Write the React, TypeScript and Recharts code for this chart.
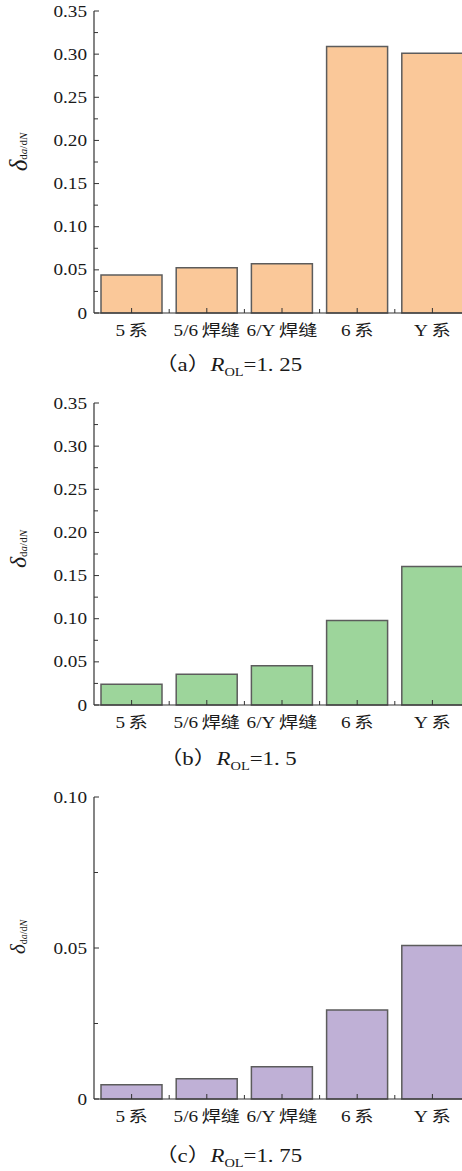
import React from 'react';
import { BarChart, Bar, XAxis, YAxis } from 'recharts';

// Categories along the x axis
const categories = ['5系', '5/6焊缝', '6/Y焊缝', '6系', 'Y系'];

// δ(da/dN) values for each overload ratio
const valuesA = [0.044, 0.0525, 0.057, 0.309, 0.301]; // R_OL = 1.25
const valuesB = [0.024, 0.0355, 0.0455, 0.098, 0.1605]; // R_OL = 1.5
const valuesC = [0.0047, 0.0067, 0.0107, 0.0295, 0.0508]; // R_OL = 1.75

// Tick values (minor ticks sit halfway between labelled ones)
const ticksAB = [0, 0.025, 0.05, 0.075, 0.1, 0.125, 0.15, 0.175, 0.2, 0.225, 0.25, 0.275, 0.3, 0.325, 0.35];
const ticksC = [0, 0.025, 0.05, 0.075, 0.1];

const SERIF = "'Liberation Serif', 'Times New Roman', 'Noto Sans CJK SC', serif";
const AXIS_COLOR = '#333';
const AXIS_X = 94;
const PLOT_TOP = 10;
const PLOT_H = 302;
const AXIS_Y = PLOT_TOP + PLOT_H;
const CHART_W = 470;
const CHART_H = PLOT_TOP + PLOT_H + 30;
const STRETCH = 1.2;

const isMajor = (v: number) => Math.round(v * 1000) % 50 === 0;
const fmt = (v: number) => (v === 0 ? '0' : v.toFixed(2));

function YTick(props: any) {
  const { y, payload } = props;
  const v = payload.value as number;
  const major = isMajor(v);
  return (
    <g>
      <line x1={AXIS_X} x2={AXIS_X + (major ? 5 : 4)} y1={y} y2={y} stroke={AXIS_COLOR} strokeWidth={1} />
      {major && (
        <g transform={`translate(87,${y}) scale(${STRETCH},1)`}>
          <text x={0} y={0} dy="0.35em" textAnchor="end" fontSize={16} fontFamily={SERIF} fill="#1a1a1a">
            {fmt(v)}
          </text>
        </g>
      )}
    </g>
  );
}

function XTick(props: any) {
  const { x, index, payload } = props;
  const label = String(payload.value);
  const m = label.match(/^(.*?)([\u4e00-\u9fff]+)$/);
  const head = m ? m[1] : label;
  const tail = m ? m[2] : '';
  return (
    <g>
      <line x1={x} x2={x} y1={AXIS_Y} y2={AXIS_Y - 5} stroke={AXIS_COLOR} strokeWidth={1} />
      {index > 0 && (
        <line x1={x - 37.6} x2={x - 37.6} y1={AXIS_Y} y2={AXIS_Y - 4} stroke={AXIS_COLOR} strokeWidth={1} />
      )}
      <g transform={`translate(${x},${AXIS_Y + 17}) scale(${STRETCH},1)`}>
        <text x={0} y={0} dy="0.35em" textAnchor="middle" fontSize={16} fontFamily={SERIF} fill="#1a1a1a">
          <tspan>{head}</tspan>
          {tail && <tspan dx={3}>{tail}</tspan>}
        </text>
      </g>
    </g>
  );
}

function YLabel({ cy, size, sub }: { cy: number; size: number; sub: number }) {
  const cx = 18;
  return (
    <text
      x={cx}
      y={cy}
      transform={`rotate(-90 ${cx} ${cy})`}
      textAnchor="middle"
      dominantBaseline="central"
      fontFamily={SERIF}
      fill="#1a1a1a"
    >
      <tspan fontSize={size} fontStyle="italic">δ</tspan>
      <tspan fontSize={sub} dy={5}>
        d<tspan fontStyle="italic">a</tspan>/d<tspan fontStyle="italic">N</tspan>
      </tspan>
    </text>
  );
}

type PanelProps = {
  top: number;
  values: number[];
  ticks: number[];
  max: number;
  fill: string;
  labelCy: number;
  labelSize: number;
  subSize: number;
};

function Panel({ top, values, ticks, max, fill, labelCy, labelSize, subSize }: PanelProps) {
  const data = categories.map((name, i) => ({ name, value: values[i] }));
  return (
    <div style={{ position: 'absolute', left: 0, top, width: CHART_W, height: CHART_H }}>
      <BarChart
        width={CHART_W}
        height={CHART_H}
        data={data}
        margin={{ top: PLOT_TOP, right: 0, bottom: 0, left: 0 }}
      >
        <XAxis
          dataKey="name"
          interval={0}
          height={30}
          tickLine={false}
          axisLine={{ stroke: AXIS_COLOR, strokeWidth: 1.2 }}
          tick={<XTick />}
        />
        <YAxis
          width={AXIS_X}
          domain={[0, max]}
          ticks={ticks}
          interval={0}
          tickLine={false}
          axisLine={{ stroke: AXIS_COLOR, strokeWidth: 1.2 }}
          tick={<YTick />}
          label={{ content: () => <YLabel cy={labelCy} size={labelSize} sub={subSize} /> }}
        />
        <Bar dataKey="value" barSize={61} fill={fill} stroke="#5c5c5c" strokeWidth={1.5} isAnimationActive={false} />
      </BarChart>
    </div>
  );
}

function Caption({ top, tag, ratio }: { top: number; tag: string; ratio: string }) {
  return (
    <div
      style={{
        position: 'absolute',
        left: -3,
        top,
        width: 462,
        textAlign: 'center',
        lineHeight: '22px',
        height: 22,
      }}
    >
      <span
        style={{
          display: 'inline-block',
          transform: `scaleX(${STRETCH})`,
          fontFamily: SERIF,
          fontSize: 19,
          color: '#1a1a1a',
          whiteSpace: 'pre',
        }}
      >
        {`（${tag}）`}
        <i>R</i>
        <span style={{ fontSize: 12, position: 'relative', top: 5 }}>OL</span>
        {`=${ratio}`}
      </span>
    </div>
  );
}

export default function App() {
  return (
    <div
      style={{
        position: 'absolute',
        left: 0,
        top: 0,
        width: 462,
        height: 1171,
        overflow: 'hidden',
        background: '#fff',
      }}
    >
      <Panel top={1} values={valuesA} ticks={ticksAB} max={0.35} fill="#FAC899" labelCy={151} labelSize={25} subSize={11} />
      <Caption top={354} tag="a" ratio="1. 25" />
      <Panel top={393} values={valuesB} ticks={ticksAB} max={0.35} fill="#9DD59B" labelCy={156} labelSize={24} subSize={11} />
      <Caption top={748} tag="b" ratio="1. 5" />
      <Panel top={787} values={valuesC} ticks={ticksC} max={0.1} fill="#BFB0D6" labelCy={150} labelSize={21} subSize={10} />
      <Caption top={1145} tag="c" ratio="1. 75" />
    </div>
  );
}
